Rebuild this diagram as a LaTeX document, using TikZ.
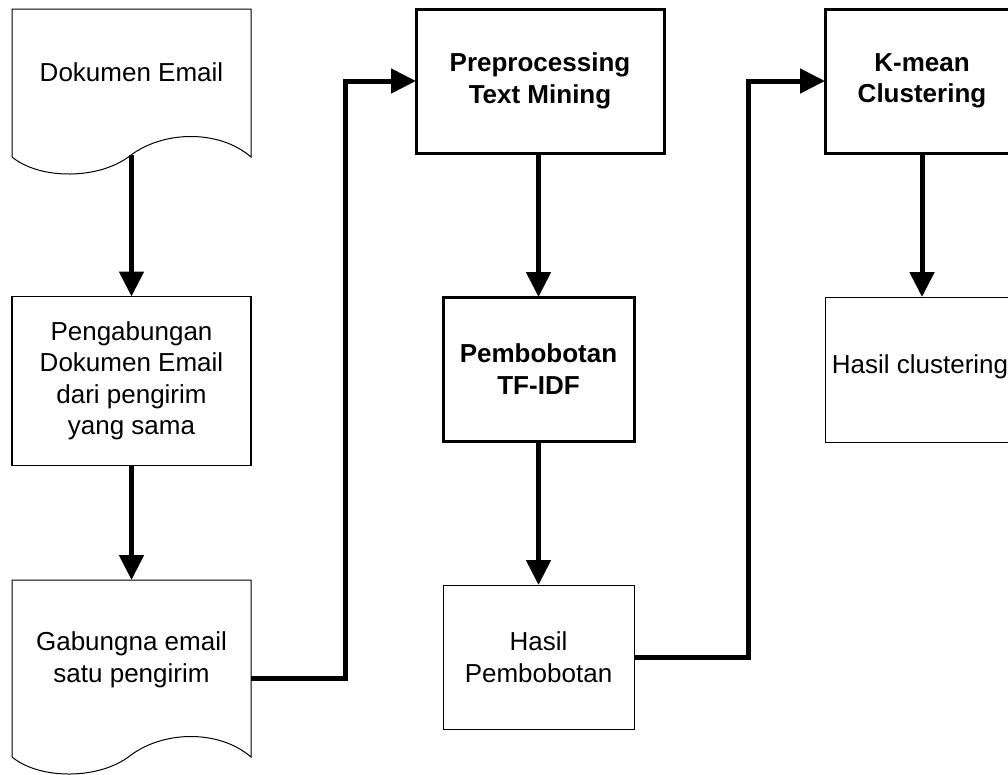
\documentclass[tikz,border=0pt]{standalone}
\usepackage{fontspec}
\setmainfont{Liberation Sans}
\usetikzlibrary{arrows.meta}
\begin{document}
\begin{tikzpicture}[x=1pt,y=-1pt,
  txt/.style={font=\fontsize{26}{31.5}\selectfont, align=center, inner sep=0pt},
  thinbox/.style={txt, draw, line width=1pt, rectangle, outer sep=0pt},
  midbox/.style={txt, draw, line width=1.8pt, rectangle, outer sep=0pt},
  thickbox/.style={txt, draw, line width=3pt, rectangle, outer sep=0pt, font=\fontsize{26}{31.5}\selectfont\bfseries},
  docshape/.style={draw, line width=1pt, fill=white},
  conn/.style={line width=5pt, -{Triangle[length=25pt,width=24pt]}}]
\clip (0,0) rectangle (1008,774);
\fill[white] (0,0) rectangle (1008,774);

% document 1
\draw[docshape] (12,157) -- (12,9) -- (251,9) -- (251,157)
  .. controls (220,130) and (165,130) .. (131,155)
  .. controls (100,180) and (40,180) .. (12,157) -- cycle;
\node[txt] (doc1) at (131.5,72) {Dokumen Email};
\coordinate (d1out) at (131.5,155);

% merge box
\node[midbox, minimum width=239pt, minimum height=169pt] (merge) at (131.5,381)
  {Pengabungan\\Dokumen Email\\dari pengirim\\yang sama};

% document 3
\draw[docshape] (12,757) -- (12,580) -- (251,580) -- (251,757)
  .. controls (220,730) and (165,730) .. (131,755)
  .. controls (100,780) and (40,780) .. (12,757) -- cycle;
\node[txt] (doc3) at (131.5,660) {Gabungna email\\satu pengirim};
\coordinate (d3in) at (131.5,580);
\coordinate (d3out) at (251,678);

% preprocessing
\node[thickbox, minimum width=248pt, minimum height=144pt] (pre) at (540,81)
  {Preprocessing\\Text Mining};
\node[thickbox, minimum width=191pt, minimum height=144pt] (tfidf) at (538.5,369)
  {Pembobotan\\TF-IDF};
\node[thinbox, minimum width=191pt, minimum height=144pt] (hp) at (538.5,657)
  {Hasil\\Pembobotan};

% clustering
\node[thickbox, minimum width=194pt, minimum height=144pt] (km) at (922,81)
  {K-mean\\Clustering};
\node[thinbox, minimum width=194pt, minimum height=145pt] (hc) at (922,369.5) {};
\node[txt] (hctext) at (920,367) {Hasil clustering};

\coordinate (j1) at (345,0);
\coordinate (j2) at (748,0);

% connectors
\draw[conn] (d1out) -- (merge.north);
\draw[conn] (merge.south) -- (d3in);
\draw[conn] (d3out) -| (pre.west -| j1) -- (pre.west);
\draw[conn] (pre.south -| tfidf.north) -- (tfidf.north);
\draw[conn] (tfidf.south) -- (hp.north);
\draw[conn] (hp.east) -| (km.west -| j2) -- (km.west);
\draw[conn] (km.south) -- (hc.north);
\end{tikzpicture}
\end{document}
